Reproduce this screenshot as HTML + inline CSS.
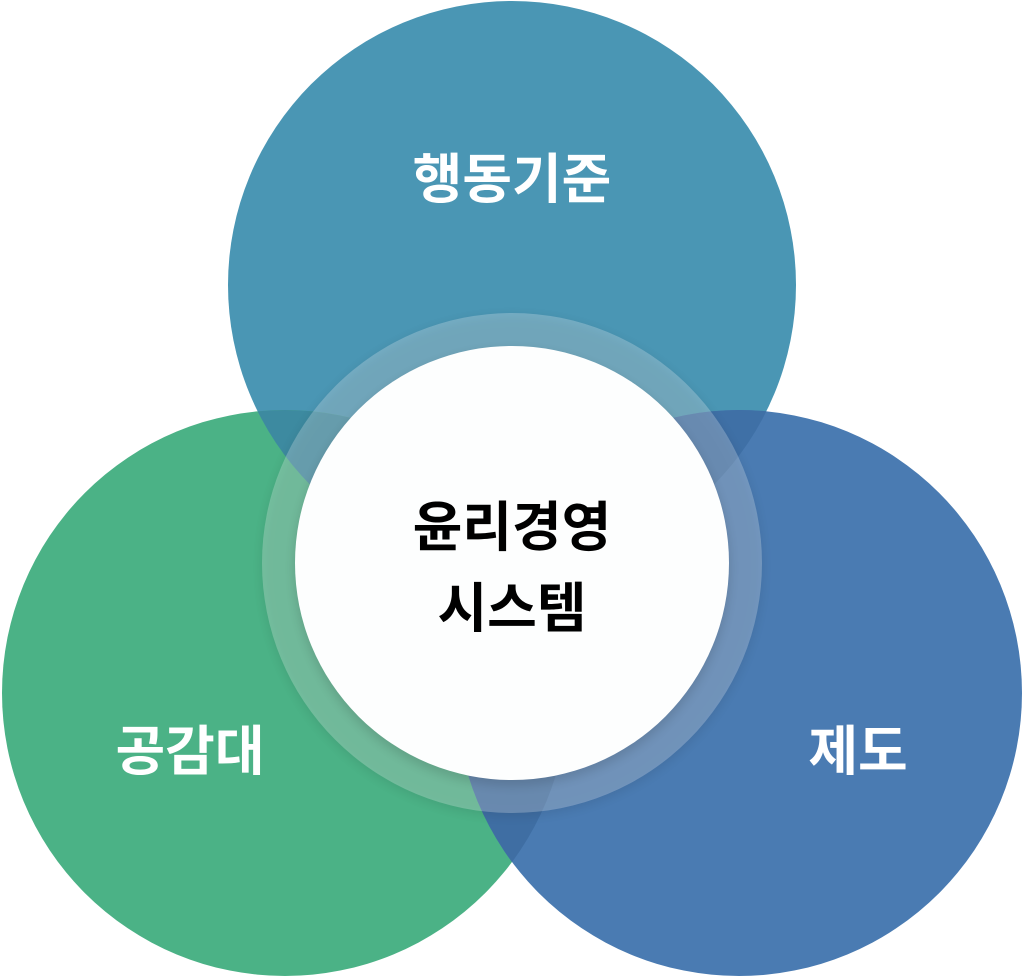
<!DOCTYPE html>
<html><head><meta charset="utf-8"><style>
html,body{margin:0;padding:0;background:#fff;width:1024px;height:977px;overflow:hidden}
svg{display:block}
text{font-family:"Noto Sans CJK KR","NanumGothic",sans-serif;font-weight:bold;text-anchor:middle}
</style></head><body>
<svg width="1024" height="977" viewBox="0 0 1024 977">
<defs>
<clipPath id="cT"><circle cx="512" cy="285" r="284"/></clipPath>
<clipPath id="cL"><circle cx="285" cy="693" r="283"/></clipPath>
<clipPath id="ring"><circle cx="512" cy="563" r="250"/></clipPath>
<filter id="sh" x="-20%" y="-20%" width="140%" height="140%"><feGaussianBlur stdDeviation="5"/></filter>
</defs>
<circle cx="512" cy="285" r="284" fill="#4a96b4"/>
<circle cx="285" cy="693" r="283" fill="#4bb286"/>
<circle cx="739" cy="693" r="283" fill="#4a7bb2"/>
<circle cx="285" cy="693" r="283" fill="#3d8aa0" clip-path="url(#cT)"/>
<circle cx="739" cy="693" r="283" fill="#3f70a6" clip-path="url(#cT)"/>
<circle cx="739" cy="693" r="283" fill="#3f6ea3" clip-path="url(#cL)"/>
<circle cx="512" cy="566" r="251" fill="#000" opacity="0.08" filter="url(#sh)"/>
<circle cx="512" cy="563" r="250" fill="#fff" opacity="0.24"/>
<circle cx="512" cy="568" r="218" fill="#000" opacity="0.12" filter="url(#sh)" clip-path="url(#ring)"/>
<circle cx="512" cy="563" r="217" fill="#fdfefe"/>
<text x="512" y="198" font-size="54" fill="#fff">행동기준</text>
<text x="190" y="770" font-size="54" fill="#fff">공감대</text>
<text x="858" y="770" font-size="54" fill="#fff">제도</text>
<text x="512" y="546" font-size="54" fill="#000">윤리경영</text>
<text x="512" y="627" font-size="54" fill="#000">시스템</text>
</svg>
</body></html>
